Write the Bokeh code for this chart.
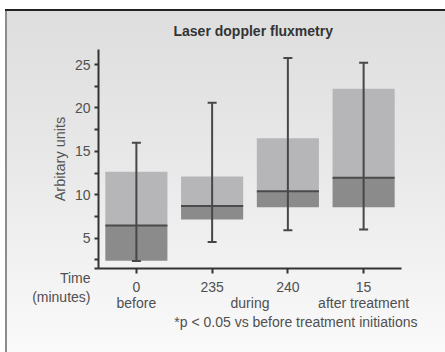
import numpy as np
from bokeh.plotting import figure
from bokeh.models import FixedTicker, Range1d, ColumnDataSource, LinearAxis, Title
from bokeh.embed import file_html
from bokeh.resources import INLINE

# ---- data ----
time_labels = ["0", "235", "240", "15"]
phase_labels = ["before", "during", "after treatment"]
time_caption = "Time\n(minutes)"
q1 = [2.4, 7.15, 8.55, 8.55]
median = [6.45, 8.7, 10.4, 11.95]
q3 = [12.65, 12.1, 16.5, 22.2]
low = [2.35, 4.55, 5.9, 6.0]
high = [16.0, 20.6, 25.75, 25.2]
y_major = [5, 10, 15, 20, 25]
y_minor = [2.5, 7.5, 12.5, 17.5, 22.5]

FONT = "Liberation Sans"
TXT = "#505050"
FS = "14px"
xs = np.arange(1, len(time_labels) + 1)
bw = 0.82
Y0, Y1 = 1.5, 26.73

src = ColumnDataSource(dict(x=xs, q1=q1, med=median, q3=q3, low=low, high=high,
                            x0=xs - bw / 2, x1=xs + bw / 2))

p = figure(width=445, height=352, output_backend="svg", toolbar_location=None,
           x_range=Range1d(0.5, 4.5), y_range=Range1d(Y0, Y1),
           min_border_left=98, min_border_right=44, min_border_top=49, min_border_bottom=84)
p.background_fill_alpha = 0
p.border_fill_alpha = 0
p.outline_line_color = None
p.grid.visible = False
p.styles = {
    "background": ("linear-gradient(#222222,#222222) 5px 9px / 440px 2px no-repeat, "
                   "linear-gradient(#8c8c8c,#8c8c8c) 5px 9px / 2px 343px no-repeat, "
                   "linear-gradient(to bottom, #dedede, #e7e7e7 40%, #fafafa) 7px 11px / 438px 341px no-repeat, "
                   "#ffffff"),
}

# boxes
p.vbar(x="x", width=bw, bottom="q1", top="med", source=src, fill_color="#8b8b8c", line_color=None)
p.vbar(x="x", width=bw, bottom="med", top="q3", source=src, fill_color="#b6b6b8", line_color=None)
# whiskers
p.segment(x0="x", y0="low", x1="x", y1="high", source=src, line_color="#474747", line_width=2)
p.scatter(x="x", y="low", source=src, marker="dash", size=9, line_color="#474747", line_width=2)
p.scatter(x="x", y="high", source=src, marker="dash", size=9, line_color="#474747", line_width=2)
# median
p.segment(x0="x0", y0="med", x1="x1", y1="med", source=src, line_color="#4a4a4a", line_width=2)

# y axis (the caption "Time (minutes)" hangs off the bottom tick)
ya = p.yaxis[0]
ya.ticker = FixedTicker(ticks=[Y0] + y_major, minor_ticks=y_minor)
ya.major_label_overrides = {Y0: "\n\n" + time_caption}
ya.axis_line_color = "#333333"
ya.axis_line_width = 2
ya.major_tick_line_color = "#333333"
ya.minor_tick_line_color = "#333333"
ya.major_tick_line_width = 2
ya.minor_tick_line_width = 2
ya.major_tick_in = 0
ya.major_tick_out = 4
ya.minor_tick_in = 0
ya.minor_tick_out = 4
ya.major_label_standoff = 4
ya.major_label_text_font = FONT
ya.major_label_text_font_size = FS
ya.major_label_text_color = TXT
ya.major_label_text_line_height = 1.2
ya.axis_label = "Arbitary units"
ya.axis_label_text_font = FONT
ya.axis_label_text_font_size = "14.5px"
ya.axis_label_text_font_style = "normal"
ya.axis_label_text_color = "#555555"
ya.axis_label_standoff = -39

xa = p.xaxis[0]
xa.ticker = FixedTicker(ticks=list(xs))
xa.major_label_overrides = {int(i): t for i, t in zip(xs, time_labels)}
xa.axis_line_color = "#333333"
xa.axis_line_width = 2
xa.major_tick_line_color = "#333333"
xa.major_tick_line_width = 2
xa.major_tick_in = 0
xa.major_tick_out = 5
xa.minor_tick_line_color = None
xa.major_label_standoff = 8
xa.major_label_text_font = FONT
xa.major_label_text_font_size = FS
xa.major_label_text_color = TXT

# second line of x labels: a tick-less axis below
phase_x = [float(xs[0]), float((xs[1] + xs[2]) / 2), float(xs[3])]
xa2 = LinearAxis(ticker=FixedTicker(ticks=phase_x),
                 major_label_overrides={px: t for px, t in zip(phase_x, phase_labels)})
xa2.axis_line_color = None
xa2.major_tick_line_color = None
xa2.minor_tick_line_color = None
xa2.major_tick_in = 0
xa2.major_tick_out = 0
xa2.major_label_standoff = 0
xa2.major_label_text_font = FONT
xa2.major_label_text_font_size = FS
xa2.major_label_text_color = TXT
p.add_layout(xa2, "below")

# footnote and title
p.add_layout(Title(text="*p < 0.05 vs before treatment initiations", align="right", offset=-16,
                   standoff=-3, text_font=FONT, text_font_size=FS, text_font_style="normal",
                   text_color=TXT), "below")
p.add_layout(Title(text="Laser doppler fluxmetry", align="left", offset=75, standoff=21,
                   text_font=FONT, text_font_size=FS, text_font_style="bold",
                   text_color="#333333"), "above")

open("out.html", "w").write(file_html(p, INLINE))
